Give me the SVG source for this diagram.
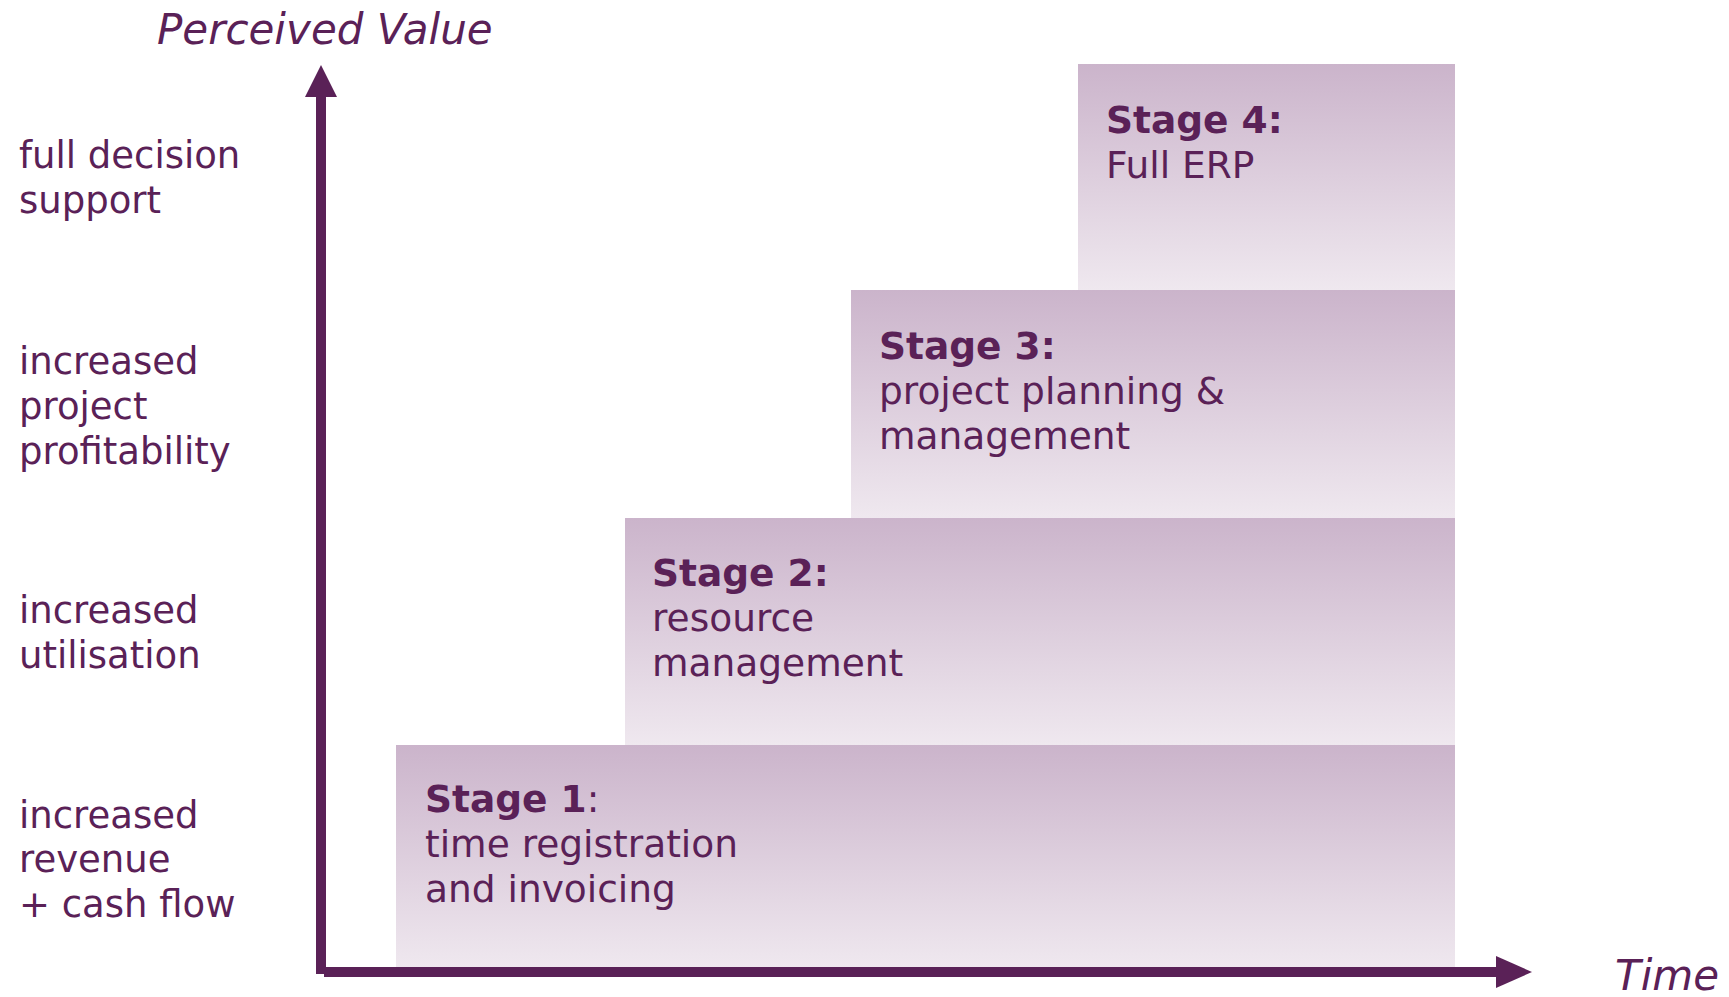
<svg xmlns="http://www.w3.org/2000/svg" width="1729" height="997" viewBox="0 0 1729 997">
<defs>
<linearGradient id="g" x1="0" y1="0" x2="0" y2="1">
<stop offset="0" stop-color="#cbb4cb"/>
<stop offset="1" stop-color="#efe8ef"/>
</linearGradient>
<style>
text{font-family:"DejaVu Sans",Verdana,sans-serif;fill:#5a2157;font-size:37px}
.s{font-size:37.5px}
.b{font-weight:bold}
.ax{font-style:italic;font-size:42px}
.box{fill:url(#g)}
.axis{stroke:#5a2157;stroke-width:10;fill:none}
.head{fill:#5a2157}
</style>
</defs>
<rect width="1729" height="997" fill="#fff"/>
<g id="stage1"><rect class="box" x="396" y="745" width="1059" height="223"/>
<text class="s" x="425" y="812"><tspan class="b">Stage 1</tspan>:</text>
<text class="s" x="425" y="857">time registration</text>
<text class="s" x="425" y="902">and invoicing</text></g>
<g id="stage2"><rect class="box" x="625" y="518" width="830" height="227"/>
<text class="s b" x="652" y="586">Stage 2:</text>
<text class="s" x="652" y="631">resource</text>
<text class="s" x="652" y="676">management</text></g>
<g id="stage3"><rect class="box" x="851" y="290" width="604" height="228"/>
<text class="s b" x="879" y="359">Stage 3:</text>
<text class="s" x="879" y="404">project planning &amp;</text>
<text class="s" x="879" y="449">management</text></g>
<g id="stage4"><rect class="box" x="1078" y="64" width="377" height="226"/>
<text class="s b" x="1106" y="133">Stage 4:</text>
<text class="s" x="1106" y="178">Full ERP</text></g>
<g id="labels">
<text x="19" y="168">full decision</text>
<text x="19" y="213">support</text>
<text x="19" y="374">increased</text>
<text x="19" y="419">project</text>
<text x="19" y="464">profitability</text>
<text x="19" y="623">increased</text>
<text x="19" y="668">utilisation</text>
<text x="19" y="828">increased</text>
<text x="19" y="872">revenue</text>
<text x="19" y="917">+ cash flow</text>
<text class="ax" x="157" y="44">Perceived Value</text>
<text class="ax" x="1615" y="990">Time</text>
</g>
<g id="connectors">
<line class="axis" x1="321" y1="974" x2="321" y2="95"/>
<polygon class="head" points="321,65 305,97 337,97"/>
<line class="axis" x1="324" y1="972" x2="1498" y2="972"/>
<polygon class="head" points="1532,972 1496,956 1496,988"/>
</g>
</svg>
